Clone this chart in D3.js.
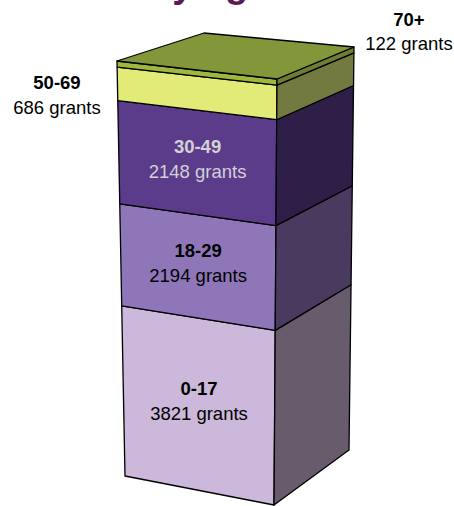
<!DOCTYPE html>
<html>
<head>
<meta charset="utf-8">
<script src="https://cdn.jsdelivr.net/npm/d3@7"></script>
<style>
  html, body { margin: 0; padding: 0; background: #ffffff; }
  svg { display: block; }
  text { font-family: "Liberation Sans", Arial, sans-serif; }
</style>
</head>
<body>
<svg id="chart" width="454" height="506"></svg>
<script>
// ---- data (bottom to top) ----
const categories = ["0-17", "18-29", "30-49", "50-69", "70+"];
const values = [3821, 2194, 2148, 686, 122];
const valueLabels = ["3821 grants", "2194 grants", "2148 grants", "686 grants", "122 grants"];
const titleText = "Grants by age";

// ---- styles ----
const frontColors = ["#cbb8da", "#8e76b9", "#5a3c8b", "#e2ea78", "#9db83c"];
const sideColors  = ["#675b6c", "#4a3a60", "#2f1f48", "#737a3f", "#6f7c34"];
const topColor = "#82963a";
const labelColors = ["#000000", "#000000", "#d4d0d4", "#000000", "#000000"];

const svg = d3.select("#chart");
const W = 454, H = 506;

// box edges in screen space (top point, bottom point)
const edgeL = { top: [117, 61], bot: [125, 476] };   // front-left
const edgeF = { top: [277, 79], bot: [274, 505] };   // front-right
const edgeB = { top: [354, 47], bot: [349, 450] };   // back-right
const backLeftTop = [204, 33];

const total = d3.sum(values);
// value (cumulative from bottom) -> fraction from top
const vScale = d3.scaleLinear().domain([0, total]).range([1, 0]);
const persp = 1.068;
function warp(t) { return persp * t / (1 - t + persp * t); }
function pointOn(edge, v) {
  const s = warp(vScale(v));
  return [
    d3.interpolateNumber(edge.top[0], edge.bot[0])(s),
    d3.interpolateNumber(edge.top[1], edge.bot[1])(s)
  ];
}

const cum = [0];
values.forEach((v, i) => cum.push(cum[i] + v));

const line = d3.line().curve(d3.curveLinearClosed);
const g = svg.append("g");

categories.forEach((c, i) => {
  const v0 = cum[i], v1 = cum[i + 1];
  const l0 = pointOn(edgeL, v0), l1 = pointOn(edgeL, v1);
  const f0 = pointOn(edgeF, v0), f1 = pointOn(edgeF, v1);
  const b0 = pointOn(edgeB, v0), b1 = pointOn(edgeB, v1);
  g.append("path")
    .attr("d", line([l1, f1, f0, l0]))
    .attr("fill", frontColors[i])
    .attr("stroke", "#000").attr("stroke-width", 1.3).attr("stroke-linejoin", "round");
  g.append("path")
    .attr("d", line([f1, b1, b0, f0]))
    .attr("fill", sideColors[i])
    .attr("stroke", "#000").attr("stroke-width", 1.3).attr("stroke-linejoin", "round");
});

// top face
{
  const l = pointOn(edgeL, total), f = pointOn(edgeF, total), b = pointOn(edgeB, total);
  g.append("path")
    .attr("d", line([l, f, b, backLeftTop]))
    .attr("fill", topColor)
    .attr("stroke", "#000").attr("stroke-width", 1.3).attr("stroke-linejoin", "round");
}

// labels
const fs = 18.5;
function addLabel(x, y, i) {
  const t = svg.append("text")
    .attr("x", x).attr("y", y)
    .attr("text-anchor", "middle")
    .attr("fill", labelColors[i])
    .style("font-size", fs + "px");
  t.append("tspan").attr("x", x).attr("y", y)
    .style("font-weight", "bold").text(categories[i]);
  t.append("tspan").attr("x", x).attr("y", y + 24.5)
    .text(valueLabels[i]);
}
[0, 1, 2].forEach(i => {
  const v0 = cum[i], v1 = cum[i + 1];
  const pts = [pointOn(edgeL, v0), pointOn(edgeL, v1), pointOn(edgeF, v0), pointOn(edgeF, v1)];
  const cx = d3.mean(pts, p => p[0]);
  const cy = d3.mean(pts, p => p[1]);
  addLabel(cx, cy - 9, i);
});
addLabel(57, 89, 3);
addLabel(409, 25.5, 4);

// title (mostly above the visible area, as in the reference)
svg.append("text")
  .attr("x", 16).attr("y", -3)
  .attr("fill", "#5c1a52")
  .style("font-size", "38px").style("font-weight", "bold")
  .text(titleText);
</script>
</body>
</html>
